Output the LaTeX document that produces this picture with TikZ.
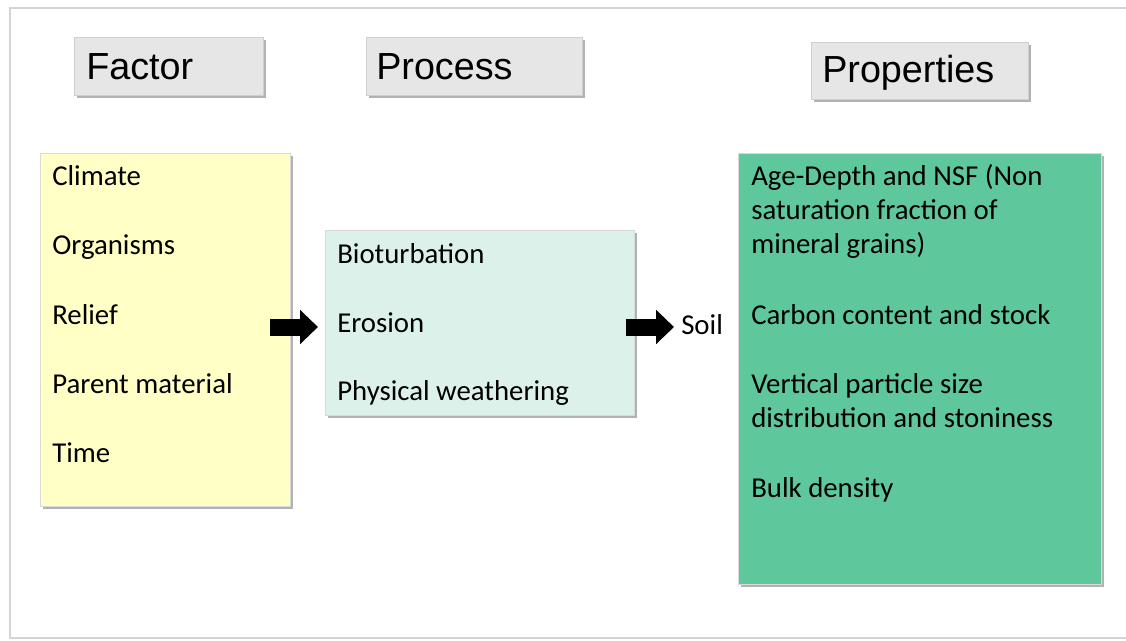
\documentclass[tikz,border=0pt]{standalone}
\usepackage{fontspec}
\setmainfont{Carlito}
\newfontfamily\headfont{Liberation Sans}
\usetikzlibrary{fit,shadows,arrows.meta}
\definecolor{headgray}{HTML}{E6E6E6}
\definecolor{factorfill}{HTML}{FFFFC6}
\definecolor{processfill}{HTML}{DBF1E9}
\definecolor{propfill}{HTML}{5EC89C}
\definecolor{framegray}{HTML}{D4D4D4}
\tikzset{
  boxshadow/.style={drop shadow={shadow xshift=2.6pt, shadow yshift=-2.6pt, fill=black, opacity=0.3}},
  headbox/.style={fill=headgray, draw=headgray!90!black, line width=0.3pt, inner sep=0pt, boxshadow},
  bodybox/.style={draw=black!15, line width=0.3pt, inner sep=0pt, boxshadow},
  headtext/.style={anchor=base west, inner sep=0pt, font=\headfont\fontsize{28.3}{34}\selectfont},
  bodytext/.style={anchor=base west, inner sep=0pt, font=\fontsize{21.6}{26}\selectfont},
  blockarrow/.style={line width=12.75pt, -{Triangle[length=13.5pt, width=25pt]}},
}
\begin{document}
\begin{tikzpicture}[x=0.75pt, y=-0.75pt]
\useasboundingbox (0,0) rectangle (1126,641);
% outer frame
\draw[framegray, line width=1.8pt] (1126,8) -- (10,8) -- (10,638) -- (1126,638);

% header boxes
\node[headbox, fit={(74,37) (263,95)}] (hfactor) {};
\node[headbox, fit={(366,37) (582,95)}] (hprocess) {};
\node[headbox, fit={(811,42) (1028,99)}] (hprop) {};
\node[headtext] (tfactor) at (86,80) {Factor};
\node[headtext] (tprocess) at (376,80) {Process};
\node[headtext] (tprop) at (822,83) {Properties};

% body boxes
\node[bodybox, fill=factorfill, fit={(40,153) (290,506)}] (factor) {};
\node[bodybox, fill=processfill, fit={(325,230) (634,415)}] (process) {};
\node[bodybox, fill=propfill, fit={(738,153) (1101,584)}] (prop) {};

% factor texts
\node[bodytext] (f1) at (52,186) {Climate};
\node[bodytext] (f2) at (52,255) {Organisms};
\node[bodytext] (f3) at (52,324) {Relief};
\node[bodytext] (f4) at (52,393) {Parent material};
\node[bodytext] (f5) at (52,462) {Time};

% process texts
\node[bodytext] (p1) at (337,263) {Bioturbation};
\node[bodytext] (p2) at (337,332) {Erosion};
\node[bodytext] (p3) at (337,400) {Physical weathering};

% property texts
\node[bodytext] (q1) at (751,186) {Age-Depth and NSF (Non};
\node[bodytext] (q2) at (751,220) {saturation fraction of};
\node[bodytext] (q3) at (751,254) {mineral grains)};
\node[bodytext] (q4) at (751,324) {Carbon content and stock};
\node[bodytext] (q5) at (751,393) {Vertical particle size};
\node[bodytext] (q6) at (751,427) {distribution and stoniness};
\node[bodytext] (q7) at (751,497) {Bulk density};

% soil label
\node[bodytext] (soil) at (681,334) {Soil};

% block arrows
\coordinate (a1s) at (270,327);
\coordinate (a1e) at (318,327);
\coordinate (a2s) at (626,327);
\coordinate (a2e) at (674,327);
\draw[blockarrow] (a1s) -- (a1e);
\draw[blockarrow] (a2s) -- (a2e);
\end{tikzpicture}
\end{document}
